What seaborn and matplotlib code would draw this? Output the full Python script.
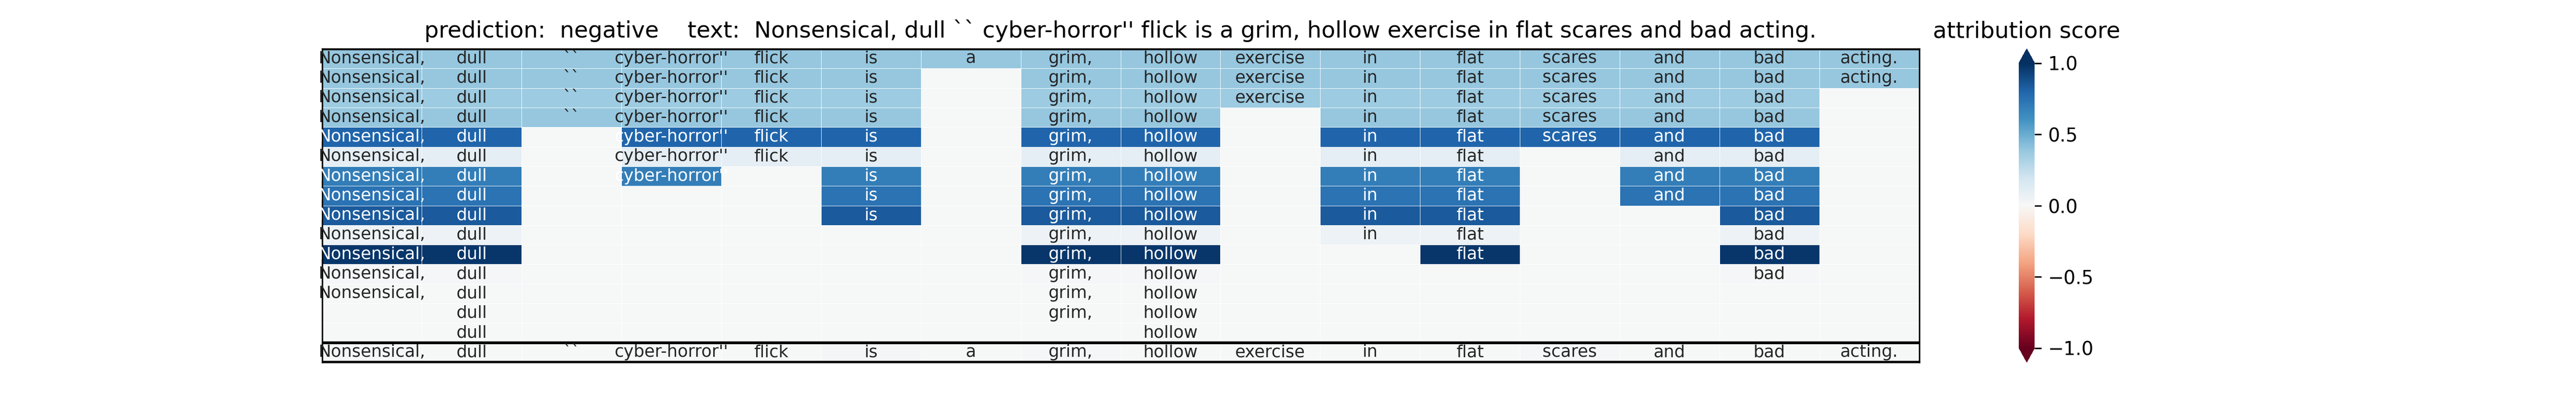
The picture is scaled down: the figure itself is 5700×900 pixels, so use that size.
import numpy as np
import matplotlib
matplotlib.use("Agg")
from matplotlib import pyplot as plt
import seaborn as sns

tokens = ["Nonsensical,", "dull", "``", "cyber-horror''", "flick", "is", "a", "grim,",
          "hollow", "exercise", "in", "flat", "scares", "and", "bad", "acting."]
prediction = "negative"

# 1 = token kept in that perturbed sentence
kept = [
    [1, 1, 1, 1, 1, 1, 1, 1, 1, 1, 1, 1, 1, 1, 1, 1],
    [1, 1, 1, 1, 1, 1, 0, 1, 1, 1, 1, 1, 1, 1, 1, 1],
    [1, 1, 1, 1, 1, 1, 0, 1, 1, 1, 1, 1, 1, 1, 1, 0],
    [1, 1, 1, 1, 1, 1, 0, 1, 1, 0, 1, 1, 1, 1, 1, 0],
    [1, 1, 0, 1, 1, 1, 0, 1, 1, 0, 1, 1, 1, 1, 1, 0],
    [1, 1, 0, 1, 1, 1, 0, 1, 1, 0, 1, 1, 0, 1, 1, 0],
    [1, 1, 0, 1, 0, 1, 0, 1, 1, 0, 1, 1, 0, 1, 1, 0],
    [1, 1, 0, 0, 0, 1, 0, 1, 1, 0, 1, 1, 0, 1, 1, 0],
    [1, 1, 0, 0, 0, 1, 0, 1, 1, 0, 1, 1, 0, 0, 1, 0],
    [1, 1, 0, 0, 0, 0, 0, 1, 1, 0, 1, 1, 0, 0, 1, 0],
    [1, 1, 0, 0, 0, 0, 0, 1, 1, 0, 0, 1, 0, 0, 1, 0],
    [1, 1, 0, 0, 0, 0, 0, 1, 1, 0, 0, 0, 0, 0, 1, 0],
    [1, 1, 0, 0, 0, 0, 0, 1, 1, 0, 0, 0, 0, 0, 0, 0],
    [0, 1, 0, 0, 0, 0, 0, 1, 1, 0, 0, 0, 0, 0, 0, 0],
    [0, 1, 0, 0, 0, 0, 0, 0, 1, 0, 0, 0, 0, 0, 0, 0],
]
# attribution score of each perturbed sentence
row_scores = [0.39, 0.39, 0.36, 0.39, 0.80, 0.10, 0.69, 0.74, 0.84, 0.06, 0.97,
              0.01, 0.0, 0.0, 0.0]
# scores of the original sentence (bottom row)
orig_scores = [0.01, 0.0, 0.0, 0.0, 0.0, 0.02, 0.0, 0.01, 0.0, 0.0, 0.0, 0.0,
               0.01, 0.0, 0.0, 0.0]

kept_arr = np.array(kept)
values = kept_arr * np.array(row_scores)[:, None]
values = np.vstack([values, orig_scores])
labels = np.where(kept_arr == 1, np.array(tokens, dtype=object), "")
labels = np.vstack([labels, np.array(tokens, dtype=object)])

fig = plt.figure(figsize=(19, 3), dpi=300)
ax = sns.heatmap(values, annot=labels, fmt="", cmap="RdBu", vmin=-1, vmax=1,
                 linewidths=0.2, linecolor="white",
                 xticklabels=False, yticklabels=False,
                 annot_kws={"fontsize": 9}, cbar_kws={"extend": "both"})

ax.set_title(f"prediction:  {prediction}    text:  {' '.join(tokens)}")

# frame + separators around the original sentence
for s in ax.spines.values():
    s.set_visible(True)
for y in (0, len(kept), len(kept) + 1):
    ax.axhline(y, color="black", lw=1.5)

cbar = ax.collections[0].colorbar
cbar.ax.set_title("attribution score")

fig.savefig("out.png", dpi=300)
